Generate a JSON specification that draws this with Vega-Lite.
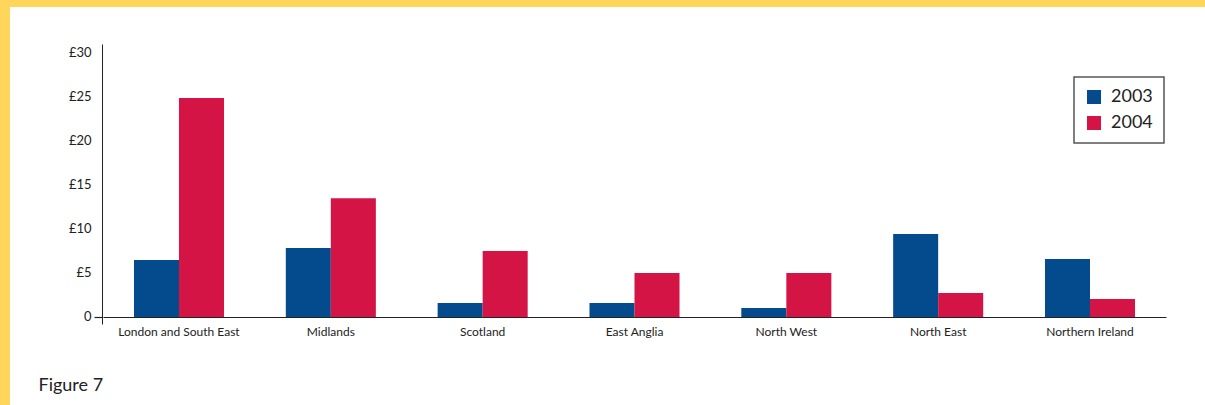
{
  "$schema": "https://vega.github.io/schema/vega-lite/v6.json",
  "width": 1195,
  "height": 398,
  "autosize": "none",
  "padding": {"left": 10, "top": 7, "right": 0, "bottom": 0},
  "background": "#FFD55A",
  "view": {"fill": "white", "stroke": null},
  "data": {
    "values": [
      {"region": "London and South East", "year": "2003", "value": 6.47},
      {"region": "London and South East", "year": "2004", "value": 24.87},
      {"region": "Midlands", "year": "2003", "value": 7.84},
      {"region": "Midlands", "year": "2004", "value": 13.48},
      {"region": "Scotland", "year": "2003", "value": 1.59},
      {"region": "Scotland", "year": "2004", "value": 7.5},
      {"region": "East Anglia", "year": "2003", "value": 1.59},
      {"region": "East Anglia", "year": "2004", "value": 5.0},
      {"region": "North West", "year": "2003", "value": 1.02},
      {"region": "North West", "year": "2004", "value": 5.0},
      {"region": "North East", "year": "2003", "value": 9.43},
      {"region": "North East", "year": "2004", "value": 2.73},
      {"region": "Northern Ireland", "year": "2003", "value": 6.59},
      {"region": "Northern Ireland", "year": "2004", "value": 2.04}
    ]
  },
  "mark": {"type": "bar"},
  "encoding": {
    "x": {
      "field": "region",
      "type": "nominal",
      "sort": null,
      "scale": {"range": [93, 1156], "paddingInner": 0.407, "paddingOuter": 0.204},
      "axis": {
        "orient": "bottom",
        "offset": -88,
        "ticks": false,
        "labelAngle": 0,
        "labelPadding": 9,
        "labelFontSize": 12,
        "labelColor": "#222",
        "domainColor": "#222",
        "domainWidth": 1.2,
        "title": "Figure 7",
        "titleX": 28,
        "titleY": 73,
        "titleAnchor": "start",
        "titleAlign": "left",
        "titleBaseline": "alphabetic",
        "titleFontSize": 18,
        "titleFontWeight": "normal",
        "titleColor": "#222"
      }
    },
    "xOffset": {"field": "year", "type": "nominal"},
    "y": {
      "field": "value",
      "type": "quantitative",
      "scale": {"domain": [-0.8, 31], "range": [317, 37], "nice": false},
      "axis": {
        "orient": "left",
        "offset": -92,
        "values": [0, 5, 10, 15, 20, 25, 30],
        "labelExpr": "datum.value == 0 ? '0' : '£' + datum.value",
        "grid": false,
        "domainColor": "#222",
        "domainWidth": 1,
        "tickSize": 8,
        "tickWidth": 1.2,
        "tickColor": {"condition": {"test": "datum.value == 0", "value": "#222"}, "value": "transparent"},
        "labelPadding": 3,
        "labelFontSize": 13,
        "labelColor": "#222",
        "title": null
      }
    },
    "color": {
      "field": "year",
      "type": "nominal",
      "scale": {"domain": ["2003", "2004"], "range": ["#044B8E", "#D31445"]},
      "legend": {
        "orient": "none",
        "legendX": 1064,
        "legendY": 70,
        "title": null,
        "symbolType": "square",
        "symbolSize": 196,
        "symbolStrokeWidth": 0,
        "labelFontSize": 18,
        "labelOffset": 8,
        "rowPadding": 8,
        "padding": 11,
        "strokeColor": "#555",
        "labelColor": "#222",
        "encode": {"legend": {"update": {"strokeWidth": {"value": 1.5}}}}
      }
    }
  },
  "config": {"font": "Lato"}
}
